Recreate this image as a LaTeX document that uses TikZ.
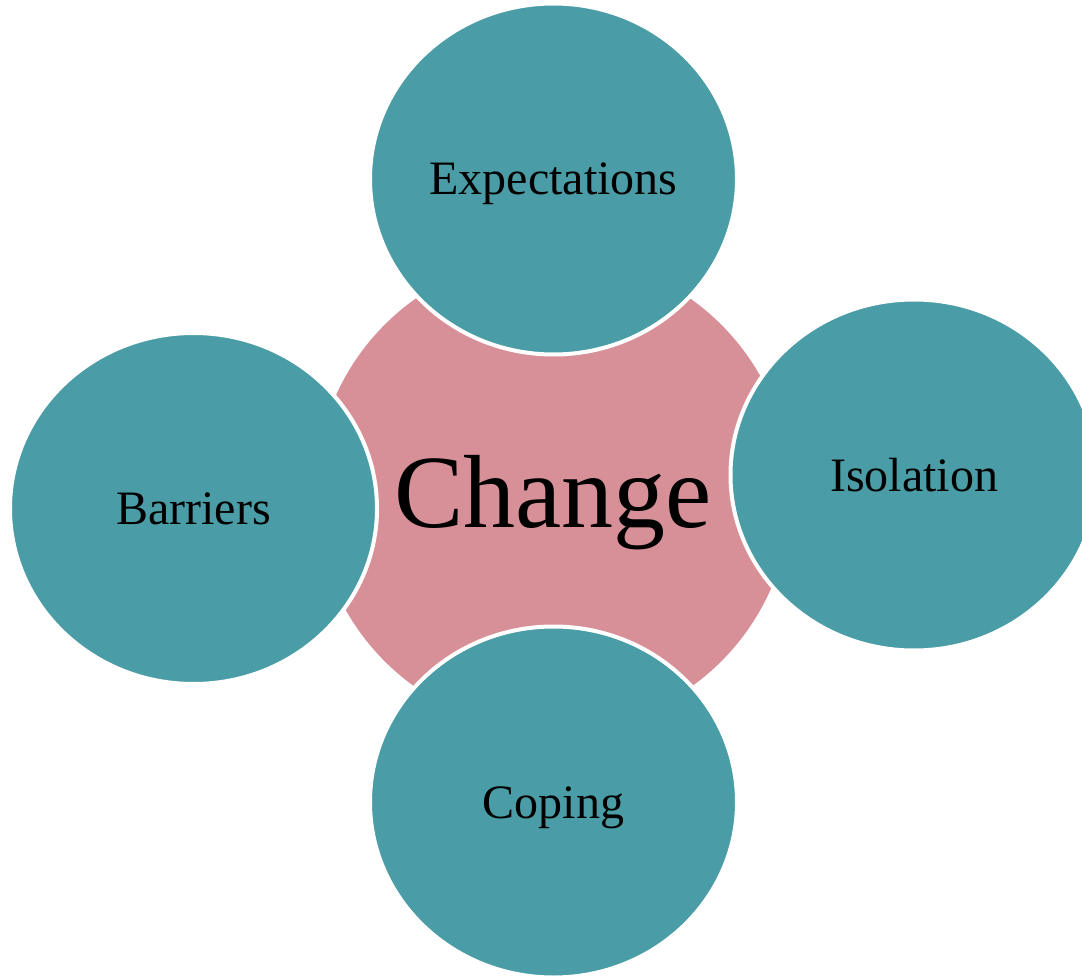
\documentclass[tikz,border=0pt]{standalone}
\usepackage{fontspec}
\setmainfont{Liberation Serif}
\usepackage{xcolor}
\usetikzlibrary{shapes.geometric}

\definecolor{hubpink}{HTML}{D89098}
\definecolor{spoketeal}{HTML}{4A9DA6}

\begin{document}
\begin{tikzpicture}[x=1pt, y=-1pt,
    hub/.style={circle, fill=hubpink, minimum size=476pt, inner sep=0pt,
        font=\fontsize{104}{110}\selectfont, text height=92pt, text depth=23pt},
    spoke/.style={ellipse, fill=spoketeal, draw=white, line width=4pt,
        minimum width=367pt, minimum height=351pt, inner sep=0pt,
        font=\fontsize{48}{52}\selectfont, text height=42pt, text depth=10pt}]
    \useasboundingbox (0,0) rectangle (1082,976);
    % Centre circle
    \node[hub] (change) at (553,493) {Change};
    % Surrounding ellipses
    \node[spoke] (expectations) at (553.5,179) {Expectations};
    \node[spoke] (isolation) at (914,475) {Isolation};
    \node[spoke] (coping) at (553.5,802) {Coping};
    \node[spoke] (barriers) at (193.5,508.5) {Barriers};
\end{tikzpicture}
\end{document}
